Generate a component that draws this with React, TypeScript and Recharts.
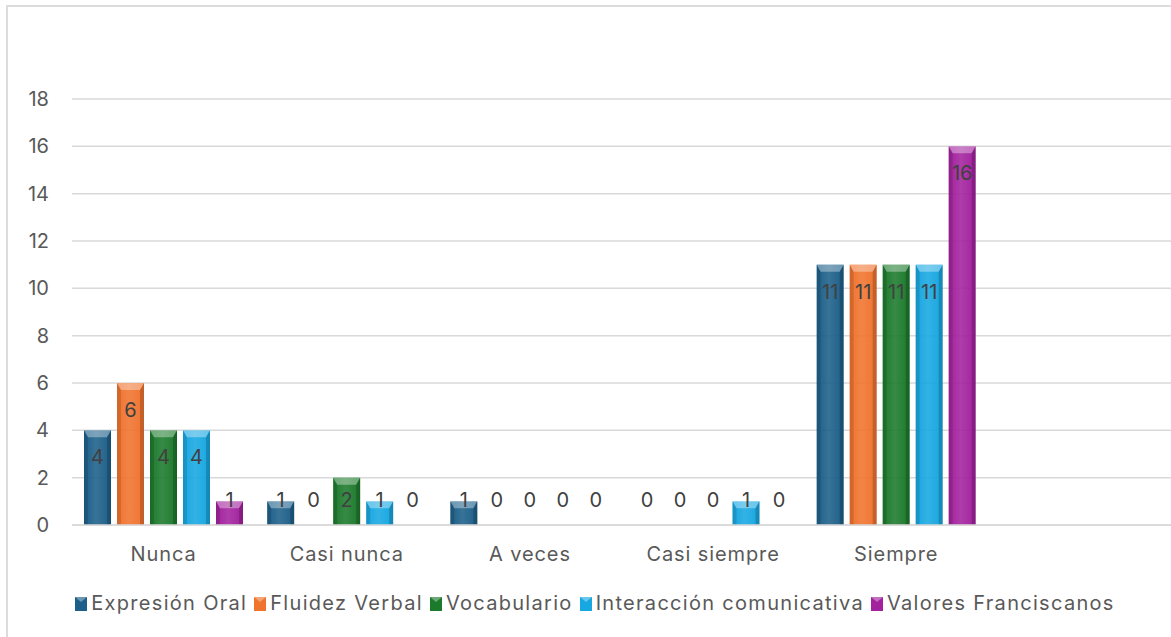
import { BarChart, Bar, XAxis, YAxis, CartesianGrid, Legend, LabelList } from 'recharts'

const categories = ['Nunca', 'Casi nunca', 'A veces', 'Casi siempre', 'Siempre', '']
const seriesNames = ['Expresión Oral', 'Fluidez Verbal', 'Vocabulario', 'Interacción comunicativa', 'Valores Franciscanos']
const expresionOral = [4, 1, 1, 0, 11, null]
const fluidezVerbal = [6, 0, 0, 0, 11, null]
const vocabulario = [4, 2, 0, 0, 11, null]
const interaccion = [4, 1, 0, 1, 11, null]
const valores = [1, 0, 0, 0, 16, null]
const yTicks = [0, 2, 4, 6, 8, 10, 12, 14, 16, 18]

const COLORS = ['#1D5F89', '#F0732E', '#1C7A2C', '#17A7E1', '#A3229E']
const KEYS = ['s0', 's1', 's2', 's3', 's4']
const FONT = 'Inter, "Noto Sans", sans-serif'
const SPACING = 0.9

const data = categories.map((c, i) => ({
  name: c,
  s0: expresionOral[i],
  s1: fluidezVerbal[i],
  s2: vocabulario[i],
  s3: interaccion[i],
  s4: valores[i],
}))

// bevelled bar like Excel's 3D preset
function BevelBar(props: any) {
  const { x, y, width, height, idx } = props
  if (!height || height <= 0) return null
  const b = Math.min(7, height / 2)
  return (
    <g>
      <rect x={x} y={y} width={width} height={height} fill={`url(#grad${idx})`} />
      <polygon
        points={`${x},${y} ${x + width},${y} ${x + width - 4},${y + b} ${x + 4},${y + b}`}
        fill="#ffffff"
        fillOpacity={0.35}
      />
      <polygon
        points={`${x},${y} ${x + 4},${y + b} ${x + 4},${y + height} ${x},${y + height}`}
        fill="#000000"
        fillOpacity={0.12}
      />
      <polygon
        points={`${x + width},${y} ${x + width - 4},${y + b} ${x + width - 4},${y + height} ${x + width},${y + height}`}
        fill="#000000"
        fillOpacity={0.18}
      />
    </g>
  )
}

function renderLabel(props: any) {
  const { x, y, width, height, value } = props
  if (value === null || value === undefined) return null
  const cy = Math.min(y + 27, y + height - 25)
  return (
    <text
      x={x + width / 2}
      y={cy}
      textAnchor="middle"
      dominantBaseline="central"
      fill="#404040"
      fontSize={20}
      fontFamily={FONT}
    >
      {value}
    </text>
  )
}

function LegendContent() {
  return (
    <div
      style={{
        display: 'flex',
        justifyContent: 'center',
        paddingTop: 14,
        paddingLeft: 24,
        fontFamily: FONT,
        fontSize: 20,
        letterSpacing: 1.3,
        color: '#595959',
      }}
    >
      {seriesNames.map((n, i) => (
        <div key={n} style={{ display: 'flex', alignItems: 'center', marginRight: 6 }}>
          <svg width={14} height={15} style={{ marginRight: 3 }}>
            <rect x={1} y={1} width={12} height={14} fill={COLORS[i]} />
            <polygon points="1,1 13,1 7,6" fill="#ffffff" fillOpacity={0.35} />
          </svg>
          <span>{n}</span>
        </div>
      ))}
    </div>
  )
}

export default function App() {
  return (
    <div style={{ position: 'fixed', left: 0, top: 0, width: 1171, height: 637, background: '#fff', overflow: 'hidden' }}>
      <div
        style={{
          position: 'absolute',
          left: 6,
          top: 5,
          width: 1200,
          height: 700,
          border: '2px solid #DCDCDC',
          boxSizing: 'border-box',
        }}
      />
      <div style={{ position: 'absolute', left: 0, top: 0 }}>
        <BarChart
          width={1171}
          height={637}
          data={data}
          margin={{ top: 99, right: 0, left: 0, bottom: 0 }}
          barSize={27}
          barGap={6}
        >
          <defs>
            {COLORS.map((c, i) => (
              <linearGradient key={c} id={`grad${i}`} x1="0" y1="0" x2="1" y2="0">
                <stop offset="0%" stopColor={c} />
                <stop offset="45%" stopColor={c} stopOpacity={0.88} />
                <stop offset="100%" stopColor={c} />
              </linearGradient>
            ))}
          </defs>
          <CartesianGrid vertical={false} stroke="#D9D9D9" strokeWidth={1.5} />
          <XAxis
            dataKey="name"
            tickLine={false}
            tickSize={0}
            tickMargin={22}
            axisLine={{ stroke: '#D9D9D9', strokeWidth: 1.5 }}
            tick={{ fill: '#595959', fontSize: 20, fontFamily: FONT, letterSpacing: SPACING }}
            height={52}
            interval={0}
          />
          <YAxis
            domain={[0, 18]}
            ticks={yTicks}
            width={72}
            axisLine={false}
            tickLine={false}
            tickSize={0}
            tickMargin={23}
            tick={{ fill: '#595959', fontSize: 20, fontFamily: FONT }}
          />
          <Legend verticalAlign="bottom" height={60} content={<LegendContent />} />
          {KEYS.map((k, i) => (
            <Bar
              key={k}
              dataKey={k}
              name={seriesNames[i]}
              fill={COLORS[i]}
              isAnimationActive={false}
              shape={(p: any) => <BevelBar {...p} idx={i} />}
            >
              <LabelList dataKey={k} content={renderLabel} />
            </Bar>
          ))}
        </BarChart>
      </div>
    </div>
  )
}
